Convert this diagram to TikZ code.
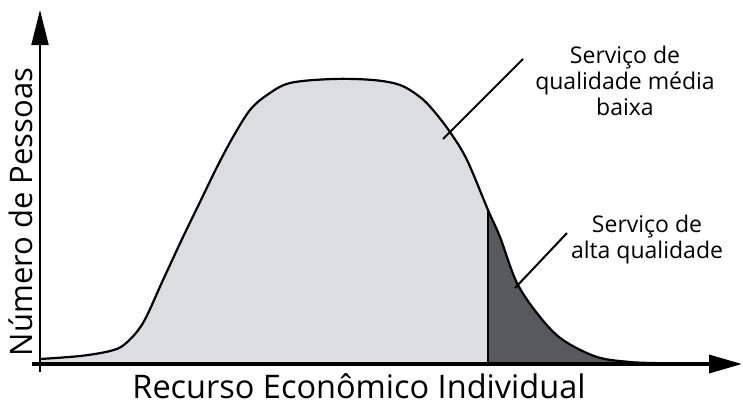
\documentclass[tikz,border=0pt]{standalone}
\usepackage{fontspec}
\setmainfont{Open Sans}
\usetikzlibrary{arrows.meta}
\definecolor{lightfill}{HTML}{DCDDDF}
\definecolor{darkfill}{HTML}{58595B}
\begin{document}
\begin{tikzpicture}[x=1pt,y=-1pt,
  curveline/.style={line width=2.2pt, line join=round},
  axisline/.style={black},
  leader/.style={line width=2pt},
  labeltext/.style={font=\fontsize{23}{26}\selectfont, anchor=base, inner sep=0pt},
  axistext/.style={font=\fontsize{32.5}{36}\selectfont, anchor=base, inner sep=0pt, text depth=0pt},
  yaxistext/.style={font=\fontsize{31}{36}\selectfont, anchor=base, inner sep=0pt, text depth=0pt}]
\useasboundingbox (0,0) rectangle (743,405);
\def\curvepath{plot[smooth, tension=0.55] coordinates {(40,359) (80,356) (110,351) (125,344) (143,323) (163,280) (183,237) (200,202) (217,167) (233,137) (250,110) (267,95) (290,83) (333,79) (373,80) (400,85) (420,97) (433,110) (450,132) (467,160) (488,210) (500,237) (517,283) (540,317) (563,340) (597,357) (630,362) (655,363)}}
% filled areas
\fill[lightfill] \curvepath -- (655,364) -- (40,364) -- cycle;
\begin{scope}
  \clip (488,0) rectangle (743,405);
  \fill[darkfill] \curvepath -- (655,364) -- (40,364) -- cycle;
\end{scope}
% separator
\begin{scope}
  \clip \curvepath -- (655,364) -- (40,364) -- cycle;
  \draw[line width=2pt] (488,150) -- (488,364);
\end{scope}
% curve
\draw[curveline] \curvepath;
% axes
\draw[axisline, line width=2pt, -{Triangle[length=35pt,width=17pt]}] (40,372) -- (40,10);
\draw[axisline, line width=3.5pt, -{Triangle[length=33pt,width=18pt]}] (32,364) -- (742,364);
% leaders
\coordinate (ma) at (443,139);
\coordinate (mb) at (523,59);
\coordinate (aa) at (515,288);
\coordinate (ab) at (567,233);
\draw[leader] (ma) -- (mb);
\draw[leader] (aa) -- (ab);
% labels
\node[labeltext] (m1) at (625,63) {Serviço de};
\node[labeltext] (m2) at (625,89) {qualidade média};
\node[labeltext] (m3) at (625,115) {baixa};
\node[labeltext] (a1) at (647,232) {Serviço de};
\node[labeltext] (a2) at (647,258) {alta qualidade};
\node[axistext] (xl) at (359,398) {Recurso Econômico Individual};
\node[yaxistext, rotate=90] (yl) at (32,212) {Número de Pessoas};
\end{tikzpicture}
\end{document}
